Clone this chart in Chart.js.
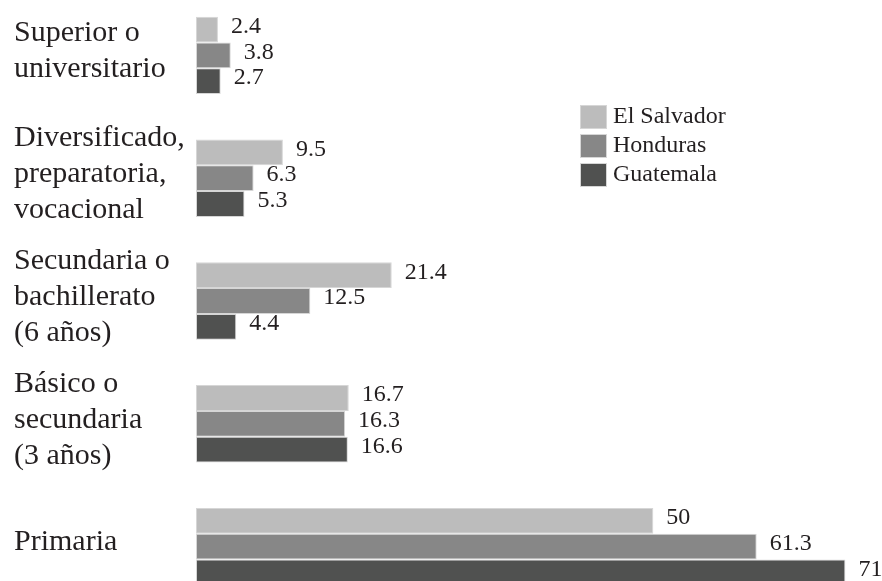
<!DOCTYPE html>
<html lang="es">
<head>
<meta charset="utf-8">
<title>Nivel educativo</title>
<script src="https://cdn.jsdelivr.net/npm/chart.js@4.4.1/dist/chart.umd.min.js"></script>
<style>
  html, body {
    margin: 0;
    padding: 0;
    background: #ffffff;
    overflow: hidden;
  }
  #wrap {
    position: absolute;
    left: 0;
    top: -6px;
    width: 882px;
    height: 614px;
  }
</style>
</head>
<body>
<div id="wrap"><canvas id="chart"></canvas></div>
<script>
const categories = [
  ["Superior o", "universitario"],
  ["Diversificado,", "preparatoria,", "vocacional"],
  ["Secundaria o", "bachillerato", "(6 años)"],
  ["Básico o", "secundaria", "(3 años)"],
  ["Primaria"],
];

const elSalvador = [2.4, 9.5, 21.4, 16.7, 50];
const honduras = [3.8, 6.3, 12.5, 16.3, 61.3];
const guatemala = [2.7, 5.3, 4.4, 16.6, 71];

const serif = '"Liberation Serif", "Times New Roman", serif';
const textColor = "#231f20";

// value printed just past the end of each bar
const valueLabels = {
  id: "valueLabels",
  afterDatasetsDraw(chart) {
    const ctx = chart.ctx;
    ctx.save();
    ctx.font = "24px " + serif;
    ctx.fillStyle = textColor;
    ctx.textAlign = "left";
    ctx.textBaseline = "middle";
    chart.data.datasets.forEach((ds, i) => {
      chart.getDatasetMeta(i).data.forEach((bar, j) => {
        ctx.fillText(String(ds.data[j]), bar.x + 13, bar.y - 3);
      });
    });
    ctx.restore();
  },
};

// stacked legend with square swatches, upper right
const boxLegend = {
  id: "boxLegend",
  afterDraw(chart) {
    const ctx = chart.ctx;
    const x = 580;
    let y = 111;
    ctx.save();
    ctx.font = "24px " + serif;
    ctx.textAlign = "left";
    ctx.textBaseline = "middle";
    chart.data.datasets.forEach((ds) => {
      ctx.fillStyle = ds.backgroundColor;
      ctx.fillRect(x, y, 27, 24);
      ctx.strokeStyle = "#d6d6d6";
      ctx.lineWidth = 1;
      ctx.strokeRect(x + 0.5, y + 0.5, 26, 23);
      ctx.fillStyle = textColor;
      ctx.fillText(ds.label, x + 33, y + 12);
      y += 29;
    });
    ctx.restore();
  },
};

new Chart(document.querySelector("#chart"), {
  type: "bar",
  data: {
    labels: categories,
    datasets: [
      { label: "El Salvador", data: elSalvador, backgroundColor: "#bcbcbc" },
      { label: "Honduras", data: honduras, backgroundColor: "#878787" },
      { label: "Guatemala", data: guatemala, backgroundColor: "#505150" },
    ],
  },
  options: {
    indexAxis: "y",
    responsive: true,
    maintainAspectRatio: false,
    animation: false,
    layout: {
      padding: { left: 14, right: 0, top: 0, bottom: 0 },
    },
    datasets: {
      bar: {
        categoryPercentage: 0.63,
        barPercentage: 1,
        borderWidth: 1,
        borderColor: "#d6d6d6",
        borderSkipped: false,
      },
    },
    plugins: {
      legend: { display: false },
      tooltip: { enabled: false },
    },
    scales: {
      x: {
        display: false,
        min: 0,
        max: 75,
      },
      y: {
        grid: { display: false },
        border: { display: false },
        afterFit(scale) {
          // fixed label column, and no extra room above/below for the labels
          scale.width = 182;
          scale.paddingTop = 0;
          scale.paddingBottom = 0;
        },
        ticks: {
          crossAlign: "far",
          labelOffset: -4,
          color: textColor,
          font: { family: serif, size: 30, lineHeight: "36px" },
        },
      },
    },
  },
  plugins: [valueLabels, boxLegend],
});
</script>
</body>
</html>
